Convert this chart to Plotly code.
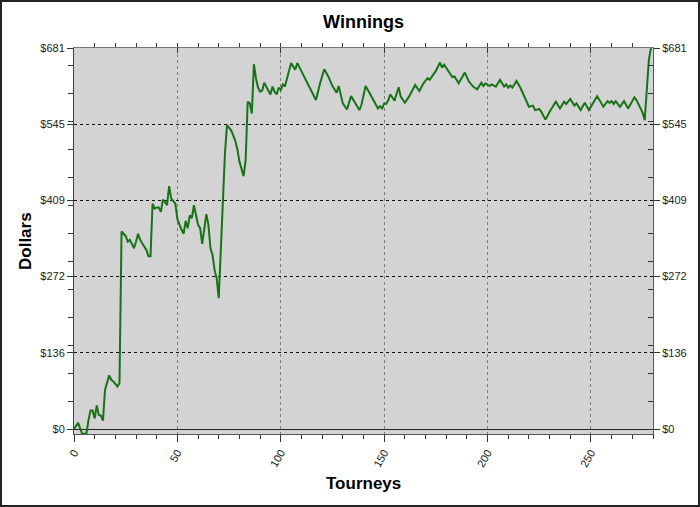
import plotly.graph_objects as go

# tourney number and running winnings
tourneys = [0, 2, 4, 6, 7, 8, 9, 10, 11, 12, 13, 14, 15, 17, 18, 19, 21, 22,
            23, 25, 26, 27, 28, 29, 30, 31, 32, 34, 35, 36, 37, 38, 39, 40,
            41, 42, 43, 44, 45, 46, 47, 49, 50, 52, 53, 54, 55, 56, 57, 58,
            59, 60, 61, 62, 64, 65, 66, 67, 68, 69, 70, 72, 73, 74, 76, 77,
            78, 79, 80, 82, 83, 84, 85, 86, 87, 88, 89, 90, 91, 92, 93, 95,
            96, 97, 98, 99, 100, 101, 102, 103, 104, 105, 106, 107, 108, 110,
            112, 113, 115, 117, 119, 121, 123, 125, 127, 128, 130, 132, 134,
            136, 138, 139, 141, 143, 145, 147, 148, 149, 150, 151, 152, 153,
            155, 157, 158, 160, 162, 165, 167, 169, 171, 172, 175, 177, 178,
            179, 183, 184, 186, 189, 191, 193, 195, 197, 198, 199, 201, 202,
            204, 206, 208, 209, 210, 211, 212, 214, 216, 218, 220, 222, 223,
            225, 226, 228, 230, 233, 235, 237, 238, 240, 242, 243, 245, 247,
            249, 253, 254, 256, 258, 259, 260, 261, 262, 264, 266, 268, 271,
            272, 274, 275, 276, 277, 278, 279]
dollars = [0, 11, -9, -8, 16, 33, 33, 19, 42, 25, 24, 15, 70, 96, 88, 85, 76, 82,
           353, 345, 335, 338, 331, 323, 335, 349, 338, 327, 320, 309, 309, 403, 394, 396,
           396, 388, 410, 406, 400, 434, 412, 403, 375, 356, 349, 372, 359, 382, 377, 400,
           379, 365, 359, 331, 384, 365, 323, 311, 284, 269, 234, 409, 493, 543, 534, 525,
           515, 500, 478, 452, 480, 585, 582, 564, 652, 627, 610, 603, 605, 619, 611, 598,
           612, 603, 598, 610, 606, 616, 612, 625, 640, 654, 648, 642, 654, 639,
           624, 618, 603, 588, 618, 643, 630, 613, 601, 613, 582, 571, 595,
           582, 570, 579, 613, 600, 585, 573, 577, 573, 582, 581, 588, 598,
           587, 611, 594, 583, 594, 615, 604, 618, 627, 624, 640, 655, 646,
           651, 629, 630, 618, 637, 621, 612, 607, 619, 613, 618, 613, 616,
           612, 624, 612, 616, 610, 614, 610, 622, 609, 591, 576, 578, 570,
           572, 567, 553, 567, 585, 573, 585, 581, 590, 578, 582, 570, 583,
           570, 595, 588, 576, 586, 583, 586, 581, 586, 576, 586, 573, 593,
           588, 573, 565, 552, 606, 660, 681]

y_tickvals = [0, 136.2, 272.4, 408.6, 544.8, 681]
y_ticktext = ["$0", "$136", "$272", "$409", "$545", "$681"]
x_tickvals = [0, 50, 100, 150, 200, 250]

X_RANGE = [0, 280]
Y_RANGE = [-8.9, 681]

# plot area in pixels
L, R, T, B = 74, 47, 48, 73
W, H = 700, 507
PW, PH = W - L - R, H - T - B

tick_font = dict(family="Liberation Sans, Arial", size=11, color="#222")

fig = go.Figure()
fig.add_trace(go.Scatter(
    x=tourneys, y=dollars, mode="lines",
    line=dict(color="#167316", width=2),
    showlegend=False,
))
# copy on the overlay axes so the top/right ticks get drawn
fig.add_trace(go.Scatter(
    x=tourneys, y=dollars, mode="lines", xaxis="x2", yaxis="y2",
    line=dict(color="rgba(0,0,0,0)", width=0),
    hoverinfo="skip", showlegend=False,
))

fig.update_layout(
    width=W, height=H,
    margin=dict(l=L, r=R, t=T, b=B),
    paper_bgcolor="white",
    plot_bgcolor="#d3d3d3",
    title=dict(text="<b>Winnings</b>", x=0.5, xref="paper", xanchor="center",
               y=1 - 22 / H, yref="container", yanchor="middle",
               font=dict(family="Liberation Sans, Arial", size=18, color="black")),
    xaxis=dict(
        range=X_RANGE, tickmode="array", tickvals=x_tickvals,
        tickangle=-60, tickfont=tick_font,
        ticks="outside", ticklen=7, tickcolor="#333",
        showgrid=True, gridcolor="#808080", griddash="dot", gridwidth=1,
        minor=dict(tickmode="linear", tick0=0, dtick=10, ticklen=4,
                   tickcolor="#333", showgrid=False),
        showline=True, linecolor="#555", linewidth=1,
        zeroline=False,
    ),
    yaxis=dict(
        range=Y_RANGE, tickmode="array", tickvals=y_tickvals, ticktext=y_ticktext,
        tickfont=tick_font,
        ticks="outside", ticklen=6, tickcolor="#333",
        showgrid=True, gridcolor="#111", griddash="dot", gridwidth=1,
        minor=dict(tickmode="linear", tick0=0, dtick=50, ticklen=5,
                   tickcolor="#333", showgrid=False),
        zeroline=True, zerolinecolor="#222", zerolinewidth=1,
        showline=True, linecolor="#444", linewidth=1,
    ),
    xaxis2=dict(
        range=X_RANGE, overlaying="x", side="top", tickmode="array",
        tickvals=x_tickvals, showticklabels=False,
        ticks="inside", ticklen=5, tickcolor="#333",
        minor=dict(tickmode="linear", tick0=0, dtick=10, ticklen=4,
                   tickcolor="#333"),
        showgrid=False, zeroline=False,
        showline=True, linecolor="#777", linewidth=1,
    ),
    yaxis2=dict(
        range=Y_RANGE, overlaying="y", side="right", tickmode="array",
        tickvals=y_tickvals, ticktext=y_ticktext, tickfont=tick_font,
        ticks="outside", ticklen=6, tickcolor="#333",
        minor=dict(tickmode="linear", tick0=0, dtick=50, ticklen=5,
                   tickcolor="#333", ticks="inside"),
        showgrid=False, zeroline=False,
        showline=True, linecolor="#555", linewidth=1,
    ),
    annotations=[
        dict(text="<b>Dollars</b>", xref="paper", yref="paper",
             x=(25 - L) / PW, y=0.5, textangle=-90, showarrow=False,
             xanchor="center", yanchor="middle",
             font=dict(family="Liberation Sans, Arial", size=17, color="black")),
        dict(text="<b>Tourneys</b>", xref="paper", yref="paper",
             x=0.5, y=-(483 - (H - B)) / PH, showarrow=False,
             xanchor="center", yanchor="middle",
             font=dict(family="Liberation Sans, Arial", size=17, color="black")),
    ],
    shapes=[
        # outer frame of the image
        dict(type="rect", xref="paper", yref="paper",
             x0=-(L - 1) / PW, x1=1 + (R - 1) / PW,
             y0=-(B - 1) / PH, y1=1 + (T - 1) / PH,
             line=dict(color="#222", width=2), layer="above"),
    ],
)

# drop the browser's default body margin so the figure sits at 0,0
fig.write_html("out.html", config={"displayModeBar": False},
               post_script="document.body.style.margin='0';")
